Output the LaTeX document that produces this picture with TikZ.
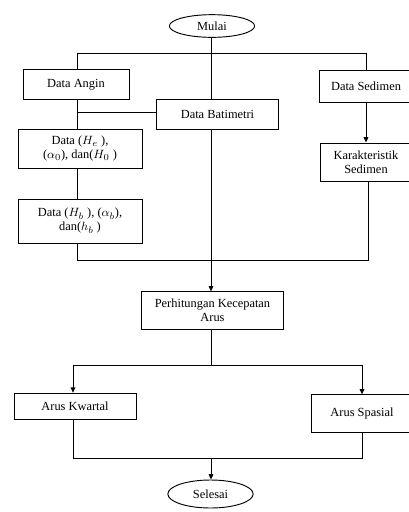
\documentclass[tikz,border=0pt]{standalone}
\usepackage{fontspec}
\setmainfont{Liberation Serif}
\usepackage{amsmath}
\usepackage{tikz}
\usetikzlibrary{shapes.geometric,arrows.meta}

\begin{document}
\begin{tikzpicture}[x=0.75pt,y=-0.75pt,
  font=\fontsize{9.3}{10.5}\selectfont,
  every path/.style={line width=0.7pt},
  proses/.style={draw,rectangle,align=center,inner sep=0pt},
  terminal/.style={draw,ellipse,inner sep=0pt},
  panah/.style={-{Triangle[length=4pt,width=3.5pt]}}]

\useasboundingbox (0,0) rectangle (409,512);

% terminal
\node[terminal, minimum width=64pt, minimum height=17pt] (mulai) at (212,26) {Mulai};
\node[terminal, minimum width=64pt, minimum height=21pt] (selesai) at (210.5,494) {Selesai};

% data masukan
\node[proses, minimum width=79.5pt, minimum height=22pt] (angin) at (76,84.5) {Data Angin};
\node[proses, minimum width=91pt, minimum height=23pt] (batimetri) at (217.5,114.5) {Data Batimetri};
\node[proses, minimum width=70pt, minimum height=24pt] (sedimen) at (366,86) {Data Sedimen};

\node[proses, minimum width=93pt, minimum height=29pt] (gelombang) at (80,149)
  {Data ($H_e$ ),\\ ($\alpha_0$), dan($H_0$ )};
\node[proses, minimum width=93pt, minimum height=33pt] (pecah) at (80,221)
  {Data ($H_b$ ), ($\alpha_b$),\\ dan($h_b$ )};
\node[proses, minimum width=69pt, minimum height=28.5pt] (karakteristik) at (366,162)
  {Karakteristik\\ Sedimen};

% proses
\node[proses, minimum width=106pt, minimum height=28pt] (hitung) at (212.5,310.5)
  {Perhitungan Kecepatan\\ Arus};
\node[proses, minimum width=91.5pt, minimum height=20pt] (kwartal) at (75,406.5) {Arus Kwartal};
\node[proses, minimum width=76.5pt, minimum height=28pt] (spasial) at (362,413.5) {Arus Spasial};

% titik cabang
\coordinate (c1) at (211,53);
\coordinate (c1a) at (77,53);
\coordinate (c1b) at (366,53);
\coordinate (c2) at (77,112);
\coordinate (c3a) at (77,260);
\coordinate (c3b) at (368,260);
\coordinate (c4) at (211,365);
\coordinate (c4a) at (73,365);
\coordinate (c4b) at (362,365);
\coordinate (c5) at (211,458);
\coordinate (c5a) at (73,458);
\coordinate (c5b) at (362,458);

% garis
\draw (mulai.south -| c1) -- (batimetri.north -| c1);
\draw (c1a) -- (c1b);
\draw (c1a) -- (angin.north -| c1a);
\draw (c1b) -- (sedimen.north -| c1b);
\draw (angin.south -| c2) -- (gelombang.north -| c2);
\draw (c2) -- (batimetri.west |- c2);
\draw (gelombang.south -| c2) -- (pecah.north -| c2);
\draw[panah] (sedimen.south -| c1b) -- (karakteristik.north -| c1b);
\draw (pecah.south -| c3a) -- (c3a) -- (c3b) -- (karakteristik.south -| c3b);
\draw[panah] (batimetri.south -| c1) -- (hitung.north -| c1);
\draw (hitung.south -| c4) -- (c4);
\draw (c4a) -- (c4b);
\draw[panah] (c4a) -- (kwartal.north -| c4a);
\draw[panah] (c4b) -- (spasial.north -| c4b);
\draw (kwartal.south -| c5a) -- (c5a) -- (c5b) -- (spasial.south -| c5b);
\draw[panah] (c5) -- (selesai.north -| c5);

\end{tikzpicture}
\end{document}
